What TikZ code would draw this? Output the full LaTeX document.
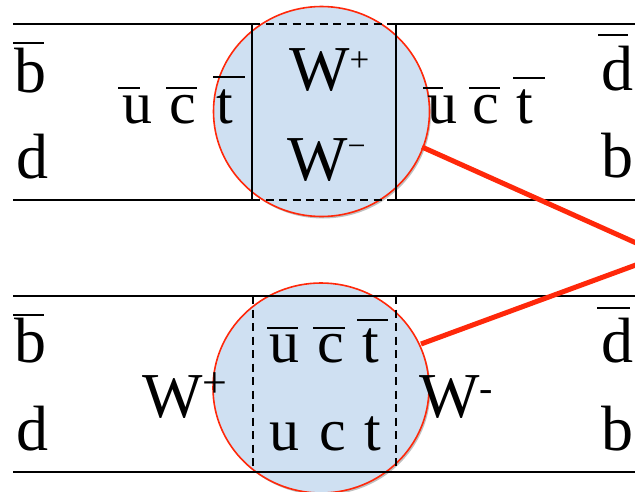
\documentclass[tikz,border=0pt]{standalone}
\usepackage{fontspec}
\setmainfont{Liberation Serif}
\usetikzlibrary{shapes.geometric,shadows}
\definecolor{cfill}{RGB}{207,224,242}
\definecolor{cred}{RGB}{255,40,10}
\newcommand\ovl[4]{\leavevmode\rlap{\kern#3\raisebox{#1}{\rule{#2}{2pt}}}#4}
\newcommand\sps[3]{\raisebox{#1}{\fontsize{#2}{#2}\selectfont #3}}
\newcommand\lbox[2]{\makebox[#1][l]{#2}}
\begin{document}
\begin{tikzpicture}[x=1pt,y=-1pt,
  frame/.style={line width=2pt,black},
  dashframe/.style={line width=2pt,black,dash pattern=on 8pt off 5.5pt},
  bubble/.style={ellipse,draw=cred,line width=1.6pt,fill=cfill,minimum width=216pt,minimum height=210pt,inner sep=0pt,
    drop shadow={shadow xshift=1.5pt,shadow yshift=-2pt,opacity=0.25,fill=black}},
  big/.style={font=\fontsize{64}{64}\selectfont,inner sep=0pt,anchor=base west},
  mid/.style={font=\fontsize{60}{60}\selectfont,inner sep=0pt,anchor=base west},
  link/.style={cred,line width=5pt}]
\useasboundingbox (0,0) rectangle (635,491);
\clip (0,0) rectangle (635,491);
% bubbles
\node[bubble] (c1) at (321.5,111.5) {};
\node[bubble] (c2) at (321,388) {};
% top diagram frame
\draw[frame] (13,24) -- (252,24) -- (252,200) -- (13,200);
\draw[frame] (640,24) -- (396,24) -- (396,200) -- (640,200);
\draw[dashframe] (252,24) -- (396,24);
\draw[dashframe] (252,200) -- (396,200);
% bottom diagram frame
\draw[frame] (13,296) -- (640,296);
\draw[frame] (13,472) -- (640,472);
\draw[dashframe] (253,296) -- (253,472);
\draw[dashframe] (396,296) -- (396,472);
% top labels
\node[big] (tb) at (14,92) {\ovl{48pt}{31pt}{-1pt}{b}};
\node[big] (td) at (16,178) {d};
\node[mid] (tq1) at (122,123) {\lbox{47pt}{\ovl{34pt}{22pt}{-4pt}{u}}\lbox{47pt}{\ovl{34pt}{31pt}{-3pt}{c}}\ovl{45pt}{32pt}{-3pt}{t}};
\node[big] (twp) at (289,90) {W\sps{18.5pt}{35}{+}};
\node[big] (twm) at (287,180) {W\sps{24pt}{32}{−}};
\node[mid] (tq2) at (427,123) {\lbox{45pt}{\ovl{34pt}{20pt}{-4pt}{u}}\lbox{44pt}{\ovl{34pt}{31pt}{-3pt}{c}}\ovl{44pt}{32pt}{-3pt}{t}};
\node[big] (tdb) at (601,90) {\ovl{54pt}{30pt}{-3pt}{d}};
\node[big] (tbr) at (601,177) {b};
% bottom labels
\node[big] (bb) at (14,362) {\ovl{46pt}{31pt}{-1pt}{b}};
\node[big] (bd) at (16,450) {d};
\node[big] (bwp) at (142,417) {W\sps{19.5pt}{44}{+}};
\node[mid] (bq1) at (269,362) {\lbox{48pt}{\ovl{33pt}{31pt}{-2pt}{u}}\lbox{45pt}{\ovl{33pt}{32pt}{-4pt}{c}}\ovl{41pt}{31pt}{-5pt}{t}};
\node[mid] (bq2) at (269,450) {\lbox{50pt}{u}\lbox{45pt}{c}t};
\node[big] (bwm) at (419,417) {W\sps{16pt}{40}{-}};
\node[big] (bdb) at (601,362) {\ovl{53pt}{33pt}{-4pt}{d}};
\node[big] (bbr) at (601,450) {b};
% red links
\coordinate (conv) at (663,255);
\coordinate (s1) at (422,147);
\coordinate (s2) at (421,344);
\draw[link] (s1) -- (conv);
\draw[link] (s2) -- (conv);
\end{tikzpicture}
\end{document}
